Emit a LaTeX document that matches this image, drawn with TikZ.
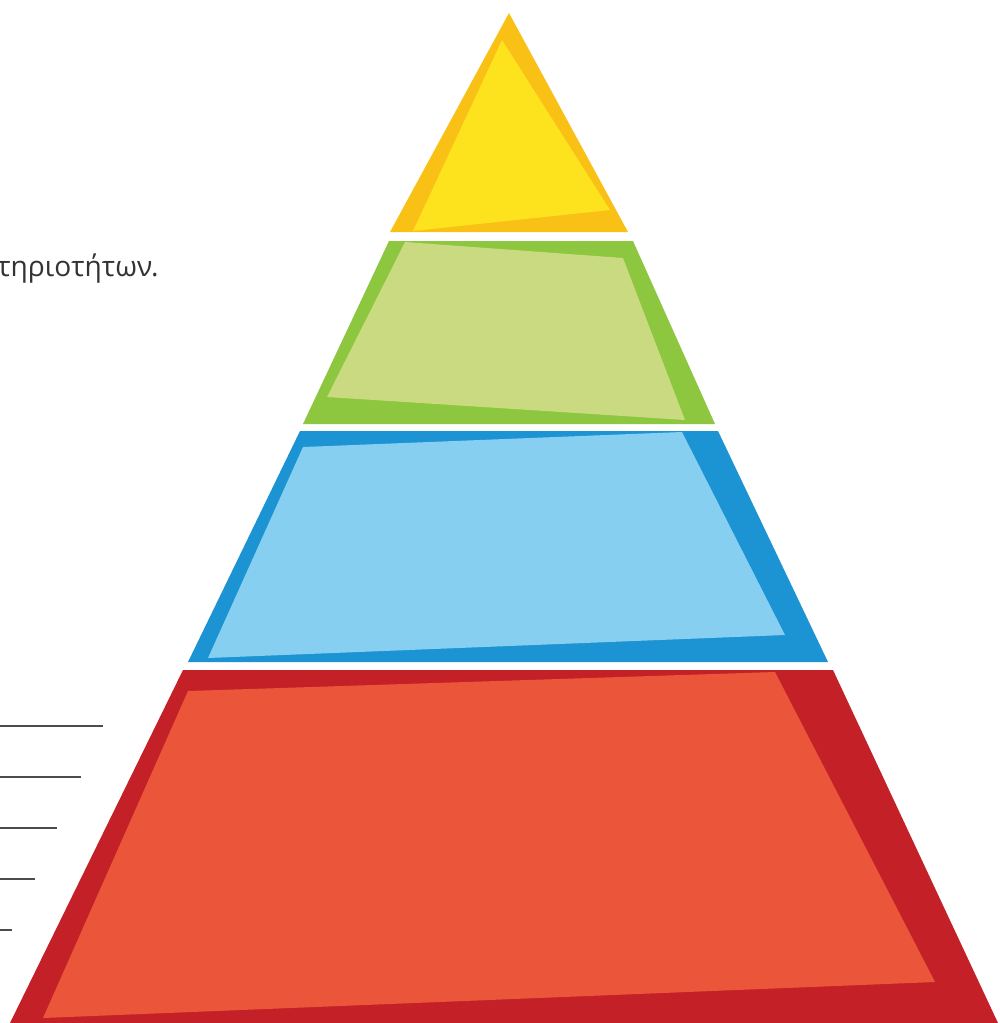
\documentclass[tikz,border=0pt]{standalone}
\usepackage{fontspec}
\setmainfont{Open Sans}
\definecolor{topdark}{HTML}{F9C115}
\definecolor{toplight}{HTML}{FDE31D}
\definecolor{greendark}{HTML}{8DC63F}
\definecolor{greenlight}{HTML}{C9DA80}
\definecolor{bluedark}{HTML}{1C93D2}
\definecolor{bluelight}{HTML}{87CFF1}
\definecolor{reddark}{HTML}{C42027}
\definecolor{redlight}{HTML}{EB5539}
\begin{document}
\begin{tikzpicture}[
	x = 0.2mm, y = -0.2mm,
	textnode/.style={anchor = base west, inner sep = 0pt, font = \fontsize{16pt}{18pt}\selectfont, text = black!80},
	answerline/.style={draw = black!70, line width = 0.28mm},
	]
	\path[use as bounding box, fill = white] (0,0) rectangle (1000,1023);
	
	%Text
	\node[textnode] (caption) at (-3,276) {τηριοτήτων.};
	
	%Lines
	\foreach \y/\len in {726/103, 777/81, 828/57, 879/35, 930/12}
		\draw[answerline] (0,\y) -- (\len,\y);
	
	%Top layer
	\fill[topdark] (509,13) -- (628,232) -- (390,232) -- cycle;
	\fill[toplight] (502,40) -- (610,210) -- (413,231) -- cycle;
	
	%Second layer
	\fill[greendark] (389,241) -- (633,241) -- (715,424) -- (303,424) -- cycle;
	\fill[greenlight] (405,242) -- (623,258) -- (685,420) -- (327,397) -- cycle;
	
	%Third layer
	\fill[bluedark] (300,431) -- (718,431) -- (828,662) -- (188,662) -- cycle;
	\fill[bluelight] (303,447) -- (682,432) -- (785,635) -- (208,658) -- cycle;
	
	%Bottom layer
	\fill[reddark] (183,670) -- (833,670) -- (998,1023) -- (10,1023) -- cycle;
	\fill[redlight] (188,691) -- (775,672) -- (935,982) -- (43,1018) -- cycle;
\end{tikzpicture}
\end{document}
